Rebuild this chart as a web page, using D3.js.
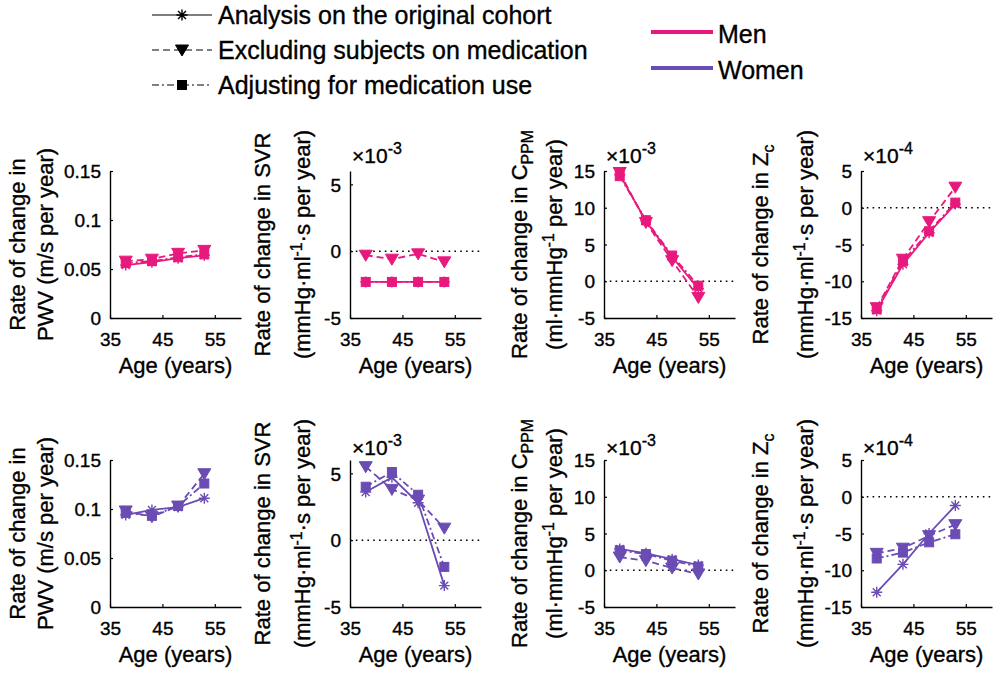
<!DOCTYPE html>
<html><head><meta charset="utf-8">
<script src="https://cdn.jsdelivr.net/npm/d3@7"></script>
<style>
body{margin:0;background:#fff}
svg{display:block}
text{font-family:"Liberation Sans",Arial,Helvetica,sans-serif;fill:#000;stroke:#000;stroke-width:0.35px}
</style>
</head><body>
<svg id="chart" width="999" height="675"></svg>
<script>
// ---------------- DATA ----------------
const ages = [38, 43, 48, 53];
const xTicks = [35, 45, 55];
const seriesNames = ["Analysis on the original cohort", "Excluding subjects on medication", "Adjusting for medication use"];
const sexNames = ["Men", "Women"];
const sexColors = ["#e8197d", "#6a4cb4"];

// PWV (m/s per year)
const menPWV_orig = [0.054, 0.057, 0.061, 0.064];
const menPWV_excl = [0.058, 0.060, 0.066, 0.069];
const menPWV_adj  = [0.056, 0.058, 0.062, 0.065];
const womenPWV_orig = [0.094, 0.099, 0.102, 0.111];
const womenPWV_excl = [0.098, 0.092, 0.103, 0.136];
const womenPWV_adj  = [0.096, 0.093, 0.103, 0.126];

// SVR (x10^-3 mmHg·ml^-1·s per year)
const menSVR_orig = [-2.3, -2.3, -2.3, -2.3];
const menSVR_excl = [-0.3, -0.6, -0.2, -0.8];
const menSVR_adj  = [-2.3, -2.3, -2.3, -2.3];
const womenSVR_orig = [3.6, 4.7, 2.8, -3.4];
const womenSVR_excl = [5.5, 3.8, 3.0, 0.9];
const womenSVR_adj  = [4.0, 5.1, 3.4, -2.0];

// Cppm (x10^-3 ml·mmHg^-1 per year)
const menCPPM_orig = [14.5, 8.2, 3.3, -1.0];
const menCPPM_excl = [14.8, 8.0, 2.8, -2.2];
const menCPPM_adj  = [14.3, 8.3, 3.5, -0.6];
const womenCPPM_orig = [2.9, 2.3, 1.5, 0.7];
const womenCPPM_excl = [1.8, 1.3, 0.3, -0.5];
const womenCPPM_adj  = [2.7, 2.2, 1.3, 0.5];

// Zc (x10^-4 mmHg·ml^-1·s per year)
const menZC_orig = [-14.0, -7.7, -3.4, 0.5];
const menZC_excl = [-13.6, -7.0, -1.9, 2.8];
const menZC_adj  = [-13.8, -7.3, -3.2, 0.7];
const womenZC_orig = [-13.0, -9.2, -5.0, -1.2];
const womenZC_excl = [-7.7, -7.0, -5.3, -3.8];
const womenZC_adj  = [-8.4, -7.6, -6.2, -5.1];

// tick labels
const pwvTicks = [0, 0.05, 0.1, 0.15];
const svrTicks = [-5, 0, 5];
const cppmTicks = [-5, 0, 5, 10, 15];
const zcTicks = [-15, -10, -5, 0, 5];

// ---------------- LAYOUT ----------------
const svg = d3.select("#chart");
const FONT_TICK = 19, FONT_LAB = 22, FONT_LEG = 25;
const axLeft = [110, 350, 604, 861];
const axW = 131;
const rowTop = [171, 460];
const axH = 147;

const panels = [
  {dom: [0, 0.15], ticks: pwvTicks, fmt: d => d === 0 ? "0" : String(d), exp: null, zero: false,
   l1: [["Rate of change in", "n"]], l2: [["PWV (m/s per year)", "n"]], b1: -85, b2: -57,
   data: [[menPWV_orig, menPWV_excl, menPWV_adj], [womenPWV_orig, womenPWV_excl, womenPWV_adj]]},
  {dom: [-5, 6], ticks: svrTicks, fmt: d => String(d), exp: "-3", zero: true,
   l1: [["Rate of change in SVR", "n"]], l2: [["(mmHg·ml", "n"], ["-1", "sup"], ["·s per year)", "n"]], b1: -80, b2: -40,
   data: [[menSVR_orig, menSVR_excl, menSVR_adj], [womenSVR_orig, womenSVR_excl, womenSVR_adj]]},
  {dom: [-5, 15], ticks: cppmTicks, fmt: d => String(d), exp: "-3", zero: true,
   l1: [["Rate of change in C", "n"], ["PPM", "sub"]], l2: [["(ml·mmHg", "n"], ["-1", "sup"], [" per year)", "n"]], b1: -77, b2: -42,
   data: [[menCPPM_orig, menCPPM_excl, menCPPM_adj], [womenCPPM_orig, womenCPPM_excl, womenCPPM_adj]]},
  {dom: [-15, 5], ticks: zcTicks, fmt: d => String(d), exp: "-4", zero: true,
   l1: [["Rate of change in Z", "n"], ["c", "sub"]], l2: [["(mmHg·ml", "n"], ["-1", "sup"], ["·s per year)", "n"]], b1: -93, b2: -48,
   data: [[menZC_orig, menZC_excl, menZC_adj], [womenZC_orig, womenZC_excl, womenZC_adj]]}
];

const dashes = [null, "7,4", "7,3,2,3"];

function richText(sel, parts, size) {
  parts.forEach(([t, k], i) => {
    const ts = sel.append("tspan").text(t);
    const prev = i > 0 ? parts[i - 1][1] : "n";
    let dy = 0;
    if (prev === "sup") dy += 8; if (prev === "sub") dy -= 6;
    if (k === "sup") { dy -= 8; ts.attr("font-size", size * 0.72); }
    if (k === "sub") { dy += 6; ts.attr("font-size", size * 0.72); }
    if (dy) ts.attr("dy", dy);
  });
}

function drawMarker(g, type, x, y, color) {
  if (type === 0) {
    const s = 5.5;
    g.append("path").attr("d", `M${x-s},${y}L${x+s},${y}M${x},${y-s}L${x},${y+s}M${x-s*0.72},${y-s*0.72}L${x+s*0.72},${y+s*0.72}M${x-s*0.72},${y+s*0.72}L${x+s*0.72},${y-s*0.72}`)
      .attr("stroke", color).attr("stroke-width", 1.4).attr("fill", "none");
  } else if (type === 1) {
    g.append("path").attr("d", `M${x-6.5},${y-5}L${x+6.5},${y-5}L${x},${y+6}Z`).attr("fill", color).attr("stroke", color).attr("stroke-width", 1);
  } else {
    g.append("rect").attr("x", x - 4.5).attr("y", y - 4.5).attr("width", 9).attr("height", 9).attr("fill", color).attr("stroke", color).attr("stroke-width", 1);
  }
}

const x = d3.scaleLinear().domain([35, 60]);

[0, 1].forEach(row => {
  panels.forEach((p, col) => {
    const L = axLeft[col], T = rowTop[row];
    const xs = x.copy().range([L, L + axW]);
    const ys = d3.scaleLinear().domain(p.dom).range([T + axH, T]);
    const g = svg.append("g");
    const color = sexColors[row];

    if (p.zero) {
      g.append("line").attr("x1", L).attr("x2", L + axW).attr("y1", ys(0)).attr("y2", ys(0))
        .attr("stroke", "#000").attr("stroke-width", 1.6).attr("stroke-dasharray", "1.6,4.2");
    }

    p.data[row].forEach((vals, si) => {
      const line = d3.line().x((d, i) => xs(ages[i])).y(d => ys(d));
      g.append("path").attr("d", line(vals)).attr("fill", "none").attr("stroke", color)
        .attr("stroke-width", 1.8).attr("stroke-dasharray", dashes[si]);
      vals.forEach((v, i) => drawMarker(g, si, xs(ages[i]), ys(v), color));
    });

    const xAxis = d3.axisBottom(xs).tickValues(xTicks).tickSizeInner(-3).tickSizeOuter(0).tickPadding(0).tickFormat(d3.format("d"));
    const gx = g.append("g").attr("transform", `translate(0,${T + axH})`).call(xAxis);
    const yAxis = d3.axisLeft(ys).tickValues(p.ticks).tickSizeInner(-3).tickSizeOuter(0).tickPadding(0).tickFormat(p.fmt);
    const gy = g.append("g").attr("transform", `translate(${L},0)`).call(yAxis);
    [gx, gy].forEach(a => {
      a.attr("font-family", null);
      a.select(".domain").attr("stroke", "#000").attr("stroke-width", 1.4);
      a.selectAll(".tick line").attr("stroke", "#000").attr("stroke-width", 1.2);
      a.selectAll("text").attr("font-size", FONT_TICK).attr("fill", null);
    });
    gx.selectAll(".tick text").attr("y", 28).attr("dy", 0);
    gy.selectAll(".tick text").attr("x", -9).attr("dy", "0.35em");

    g.append("text").attr("x", L + axW / 2).attr("y", T + axH + 55).attr("text-anchor", "middle")
      .attr("font-size", FONT_LAB).text("Age (years)");

    const yc = T + axH / 2;
    [[p.l1, p.b1], [p.l2, p.b2]].forEach(([parts, b]) => {
      const t = g.append("text").attr("transform", `translate(${L + b},${yc}) rotate(-90)`)
        .attr("text-anchor", "middle").attr("font-size", FONT_LAB);
      richText(t, parts, FONT_LAB);
    });

    if (p.exp) {
      const t = g.append("text").attr("x", L + 2).attr("y", T - (row === 0 ? 8 : 5)).attr("font-size", 21);
      t.append("tspan").text("×10");
      t.append("tspan").text(p.exp).attr("font-size", 16).attr("dy", -9);
    }
  });
});

// ---------------- LEGEND ----------------
const lg = svg.append("g");
const legY = [15, 50, 85];
seriesNames.forEach((name, i) => {
  lg.append("line").attr("x1", 152).attr("x2", 212).attr("y1", legY[i]).attr("y2", legY[i])
    .attr("stroke", "#000").attr("stroke-width", 1.2).attr("stroke-dasharray", dashes[i]);
  drawMarker(lg, i, 182, legY[i], "#000");
  lg.append("text").attr("x", 218).attr("y", legY[i]).attr("dy", "0.35em").attr("font-size", FONT_LEG).text(name);
});
const sexY = [32, 68];
sexNames.forEach((name, i) => {
  lg.append("line").attr("x1", 651).attr("x2", 713).attr("y1", sexY[i]).attr("y2", sexY[i])
    .attr("stroke", sexColors[i]).attr("stroke-width", 4);
  lg.append("text").attr("x", 718).attr("y", sexY[i] + 2).attr("dy", "0.35em").attr("font-size", FONT_LEG).text(name);
});
</script>
</body></html>
